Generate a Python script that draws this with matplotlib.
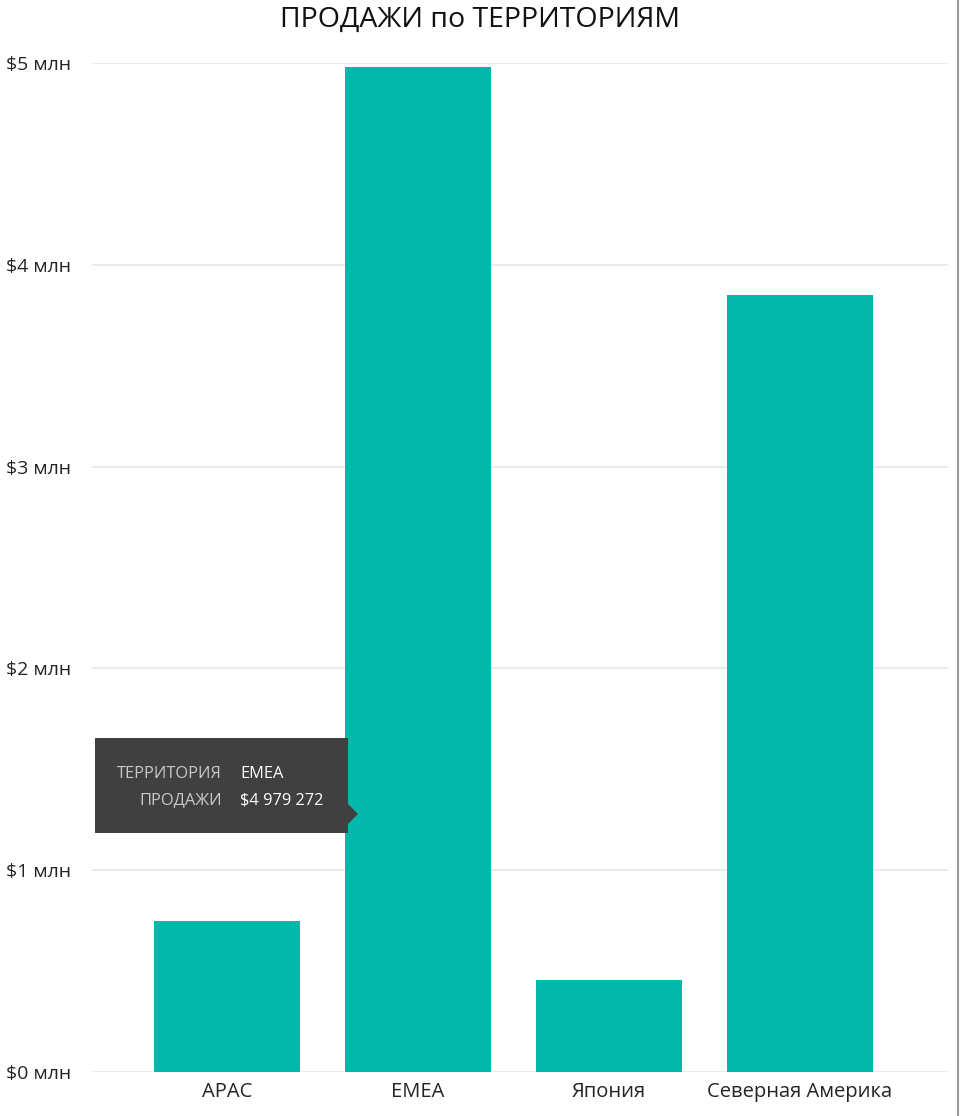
import matplotlib
matplotlib.use("Agg")
import matplotlib.pyplot as plt
from matplotlib.patches import Polygon, Rectangle
from matplotlib.lines import Line2D
from matplotlib.ticker import FuncFormatter, MultipleLocator

plt.rcParams['font.family'] = ['Open Sans', 'DejaVu Sans']

categories = ["APAC", "EMEA", "Япония", "Северная Америка"]
sales = [748000, 4979272, 456000, 3850000]
title = "ПРОДАЖИ по ТЕРРИТОРИЯМ"
tooltip_fields = ["ТЕРРИТОРИЯ", "ПРОДАЖИ"]
tooltip_index = 1

W, H = 960, 1116
fig = plt.figure(figsize=(W / 100, H / 100), dpi=100)
fig.patch.set_facecolor("white")

def px(x0, y0, x1, y1):
    return [x0 / W, 1 - y1 / H, (x1 - x0) / W, (y1 - y0) / H]

ax = fig.add_axes(px(92, 63, 948, 1072))
x = list(range(len(categories)))
ax.bar(x, sales, width=0.764, color="#01B8AA", zorder=3)
ax.set_xlim(-0.7068, 3.775)
ax.set_ylim(0, 5e6)
ax.yaxis.set_major_locator(MultipleLocator(1e6))
ax.yaxis.grid(True, color="#e6e6e6", linewidth=1.2, zorder=0)
ax.set_axisbelow(True)
for s in ax.spines.values():
    s.set_visible(False)
ax.set_xticks(x)
ax.set_xticklabels(categories, fontsize=14.5, color="#252423")
ax.tick_params(axis="both", length=0)
ax.tick_params(axis="x", pad=7)
ax.yaxis.set_major_formatter(FuncFormatter(lambda v, p: f"${int(round(v / 1e6))} млн"))
for lab in ax.get_yticklabels():
    lab.set_fontsize(14)
    lab.set_color("#252423")
    lab.set_horizontalalignment("left")
ax.tick_params(axis="y", pad=62)

fig.text(0.5, 1 - 20 / H, title, ha="center", va="center", fontsize=20.5, color="#111111")

# right border line
fig.add_artist(Line2D([958 / W, 958 / W], [0, 1], color="#9a9a9a", linewidth=1.5, transform=fig.transFigure))

# tooltip
tb = Rectangle((95 / W, 1 - 833 / H), (348 - 95) / W, (833 - 738) / H, transform=fig.transFigure,
               facecolor="#404040", edgecolor="none", zorder=10)
fig.add_artist(tb)
tri = Polygon([[348 / W, 1 - 804 / H], [358 / W, 1 - 814 / H], [348 / W, 1 - 824 / H]], closed=True,
              transform=fig.transFigure, facecolor="#404040", edgecolor="none", zorder=10)
fig.add_artist(tri)
vals = [categories[tooltip_index], "$" + f"{sales[tooltip_index]:,}".replace(",", " ")]
for i, (f, v) in enumerate(zip(tooltip_fields, vals)):
    yy = 1 - (774 + 26 * i) / H
    fig.text(222 / W, yy, f, ha="right", va="center", fontsize=11.8, color="#c8c8c8", zorder=11)
    fig.text(240 / W, yy, v, ha="left", va="center", fontsize=11.8, color="#ffffff", zorder=11)

fig.savefig("out.png", dpi=100, facecolor="white")
